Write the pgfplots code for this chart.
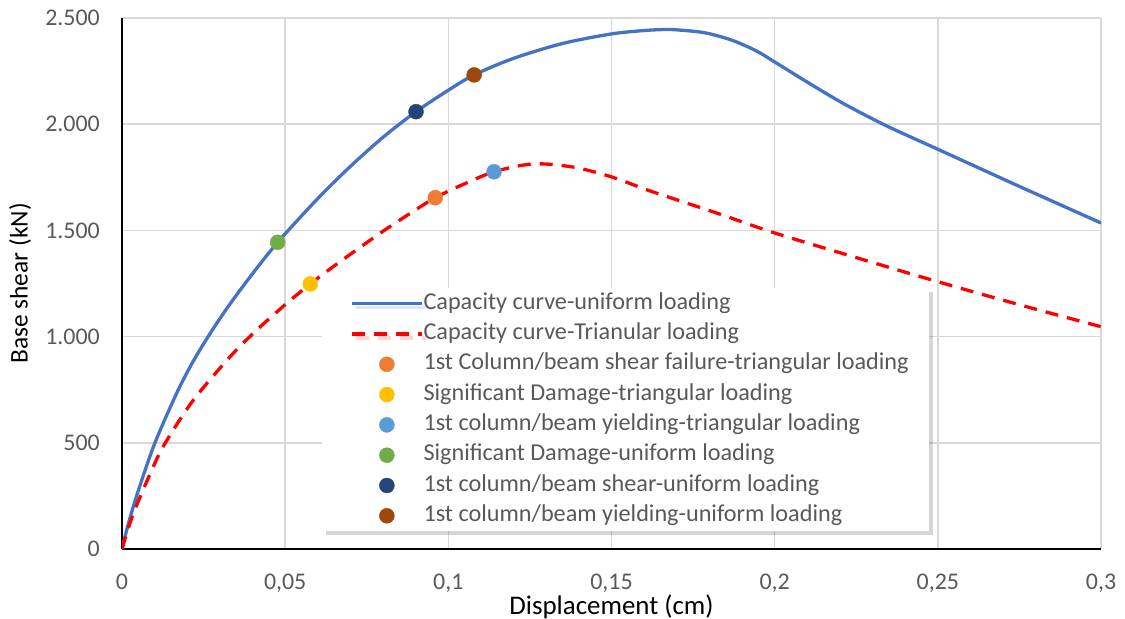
\documentclass[border=0pt]{standalone}
\usepackage{fontspec}
\setmainfont{Carlito}
\usepackage{pgfplots}
\pgfplotsset{compat=1.18}
\usetikzlibrary{shadows}
\definecolor{cblue}{HTML}{4472C4}
\definecolor{cred}{HTML}{FF0000}
\definecolor{corange}{HTML}{ED7D31}
\definecolor{cyellow}{HTML}{FFC000}
\definecolor{clblue}{HTML}{5B9BD5}
\definecolor{cgreen}{HTML}{70AD47}
\definecolor{cnavy}{HTML}{264478}
\definecolor{cbrown}{HTML}{9E480E}
\definecolor{tgrey}{HTML}{595959}
\definecolor{ggrid}{HTML}{D9D9D9}
\pgfplotsset{
  dotleg/.style={only marks, mark=*, mark size=7.5bp,
    legend image code/.code={\path (0bp,0bp) (78bp,0bp); \draw[##1] plot coordinates {(43bp,0bp)};}},
}
\begin{document}
\begin{tikzpicture}
\useasboundingbox (0,0) rectangle (1125bp,619bp);
\begin{axis}[
  at={(122bp,70bp)}, anchor=south west,
  scale only axis, width=979bp, height=531bp,
  xmin=0, xmax=0.3, ymin=0, ymax=2500,
  xtick={0,0.05,0.1,0.15,0.2,0.25,0.3},
  ytick={0,500,1000,1500,2000,2500},
  scaled x ticks=false, scaled y ticks=false,
  major tick length=0pt,
  grid=major, grid style={color=ggrid, line width=1.5bp},
  axis x line*=bottom, axis y line*=left,
  x axis line style={-}, y axis line style={-},
  axis line style={black, line width=2bp},
  /pgf/number format/assume math mode=true,
  xticklabel style={/pgf/number format/.cd, fixed, use comma, precision=2, /tikz/.cd,
    font=\fontsize{24}{28}\selectfont, text=tgrey, inner sep=0pt, anchor=north, yshift=-25bp},
  yticklabel style={/pgf/number format/.cd, fixed, 1000 sep={.}, /tikz/.cd,
    font=\fontsize{24}{28}\selectfont, text=tgrey, inner sep=0pt, anchor=east, xshift=-22bp},
  xlabel={Displacement (cm)}, ylabel={Base shear (kN)},
  every axis x label/.style={at={(axis description cs:0.5,0)}, yshift=-57.5bp, anchor=center,
    font=\fontsize{27}{32}\selectfont},
  every axis y label/.style={at={(axis description cs:0,0.5)}, xshift=-102bp, rotate=90, anchor=center,
    font=\fontsize{25.5}{30}\selectfont},
  legend image code/.code={\path (0bp,0bp) (78bp,0bp); \draw[#1] (8bp,0bp) -- (78bp,0bp);},
  legend cell align=left,
  legend style={at={(rel axis cs:0.2043,0.4915)}, anchor=north west,
    draw=none, fill=white, inner xsep=20bp, inner ysep=4bp, row sep=7.3bp,
    font=\fontsize{24.3}{28}\selectfont, text=tgrey,
    nodes={inner sep=0pt, text height=17bp, text depth=6bp},
    drop shadow={shadow xshift=4bp, shadow yshift=-4bp, fill=black, opacity=0.16},
    /tikz/every even column/.append style={column sep=9bp}},
]
\addplot[cblue, line width=3.3bp, smooth, tension=0.5, no markers] coordinates {
(0,0) (0.002,122) (0.005,275) (0.0101,500) (0.0168,735) (0.0215,875) (0.0264,1000)
(0.032,1130) (0.0392,1280) (0.0477,1444) (0.060,1650) (0.0699,1800) (0.0801,1940)
(0.0901,2059) (0.1,2160) (0.1079,2232) (0.120,2310) (0.135,2380) (0.150,2425)
(0.160,2441) (0.167,2446) (0.171,2443) (0.176,2436) (0.180,2426) (0.187,2395)
(0.1944,2345) (0.2001,2292) (0.21,2198) (0.221,2098) (0.2343,1992) (0.25,1882)
(0.275,1707) (0.3,1535)
};
\addlegendentry{Capacity curve-uniform loading}
\addplot[cred, line width=3.3bp, smooth, tension=0.5, no markers, dash pattern=on 13bp off 9bp] coordinates {
(0,0) (0.0035,168) (0.0096,388) (0.0132,498) (0.0218,700) (0.0331,905) (0.0413,1031)
(0.0505,1157) (0.0577,1248) (0.0647,1329) (0.079,1486) (0.0903,1600) (0.096,1654)
(0.1036,1710) (0.114,1776) (0.126,1813) (0.1383,1798) (0.150,1752) (0.1618,1686)
(0.1822,1582) (0.1996,1490) (0.225,1372) (0.2501,1258) (0.275,1150) (0.2999,1047)
};
\addlegendentry{Capacity curve-Trianular loading}
\addplot[corange, dotleg] coordinates {(0.096,1654)};
\addlegendentry{1st Column/beam shear failure-triangular loading}
\addplot[cyellow, dotleg] coordinates {(0.0577,1248)};
\addlegendentry{Significant Damage-triangular loading}
\addplot[clblue, dotleg] coordinates {(0.114,1776)};
\addlegendentry{1st column/beam yielding-triangular loading}
\addplot[cgreen, dotleg] coordinates {(0.0477,1444)};
\addlegendentry{Significant Damage-uniform loading}
\addplot[cnavy, dotleg] coordinates {(0.0901,2059)};
\addlegendentry{1st column/beam shear-uniform loading}
\addplot[cbrown, dotleg] coordinates {(0.1079,2232)};
\addlegendentry{1st column/beam yielding-uniform loading}
\end{axis}
\end{tikzpicture}
\end{document}
